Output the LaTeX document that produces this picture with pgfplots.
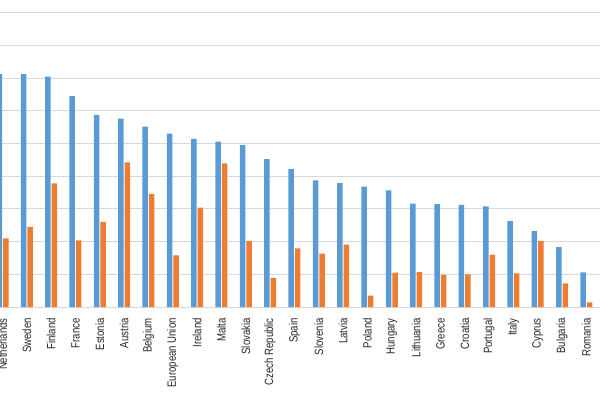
\documentclass[border=0pt]{standalone}
\usepackage{fontspec}
\setmainfont{Liberation Sans}
\newfontfamily\narrowfont{Liberation Sans}[FakeStretch=0.8]
\usepackage{pgfplots}
\pgfplotsset{compat=1.18}
\definecolor{cblue}{HTML}{5B9BD5}
\definecolor{corange}{HTML}{ED7D31}
\definecolor{cgrid}{HTML}{D9D9D9}
\begin{document}
\begin{tikzpicture}
\begin{axis}[
  scale only axis, width=600bp, height=307bp,
  xmin=-0.103, xmax=24.56, ymin=0, ymax=9.39,
  ybar=1bp, bar width=5.5bp,
  xtick={0,...,24},
  xticklabels={Netherlands,Sweden,Finland,France,Estonia,Austria,Belgium,European Union,Ireland,Malta,Slovakia,Czech Republic,Spain,Slovenia,Latvia,Poland,Hungary,Lithuania,Greece,Croatia,Portugal,Italy,Cyprus,Bulgaria,Romania},
  xticklabel style={rotate=90, anchor=east, font=\narrowfont\fontsize{12bp}{14bp}\selectfont, inner sep=0pt, text=black!85, xshift=1bp},
  xticklabel shift=12bp,
  major tick length=0pt,
  ytick={0,...,9}, yticklabels={},
  ymajorgrids, grid style={cgrid, line width=1bp},
  axis line style={draw=none},
]
\addplot[fill=cblue, draw=none] coordinates {
(0,7.12) (1,7.12) (2,7.05) (3,6.45) (4,5.88) (5,5.76) (6,5.52) (7,5.30) (8,5.14) (9,5.06) (10,4.95) (11,4.52) (12,4.22) (13,3.87) (14,3.79) (15,3.68) (16,3.57) (17,3.16) (18,3.15) (19,3.12) (20,3.08) (21,2.63) (22,2.32) (23,1.83) (24,1.06)};
\addplot[fill=corange, draw=none] coordinates {
(0,2.10) (1,2.45) (2,3.78) (3,2.04) (4,2.60) (5,4.42) (6,3.45) (7,1.58) (8,3.04) (9,4.39) (10,2.02) (11,0.89) (12,1.79) (13,1.63) (14,1.91) (15,0.35) (16,1.05) (17,1.07) (18,0.98) (19,1.00) (20,1.60) (21,1.03) (22,2.02) (23,0.72) (24,0.14)};
\coordinate (sw) at (rel axis cs:0,0);
\coordinate (ne) at (rel axis cs:1,1);
\end{axis}
\pgfresetboundingbox
\useasboundingbox ([yshift=-93bp]sw) rectangle (ne);
\end{tikzpicture}
\end{document}
